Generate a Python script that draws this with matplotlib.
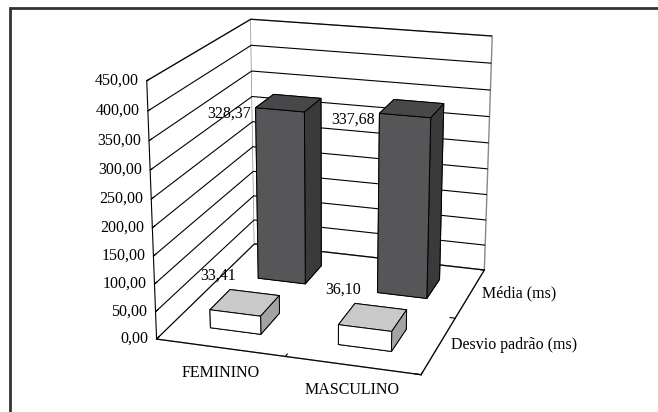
import matplotlib
matplotlib.use("Agg")
import matplotlib.pyplot as plt
from matplotlib.patches import Rectangle
from mpl_toolkits.mplot3d import proj3d
import numpy as np

categories = ["FEMININO", "MASCULINO"]
series = ["Desvio padrão (ms)", "Média (ms)"]
desvio = [33.41, 36.10]
media = [328.37, 337.68]
z_ticks = [0, 50, 100, 150, 200, 250, 300, 350, 400, 450]

plt.rcParams['font.family'] = ['Liberation Serif', 'DejaVu Serif']
FS = 11.5

def fmt(v):
    return f"{v:.2f}".replace('.', ',')

fig = plt.figure(figsize=(6.58, 4.12), dpi=100)
fig.patches.append(Rectangle((10/658, -0.1), 1.2, (1 - 8/412) + 0.1, transform=fig.transFigure,
                             fill=False, edgecolor='#333333', linewidth=2.0, zorder=0))

ax = fig.add_axes([-0.008, 0.042, 1.0, 1.0], projection='3d')
ax.set_proj_type('persp', focal_length=0.7)
ax.view_init(elev=18.4, azim=-72.4)
ax.set_box_aspect((262, 272, 256), zoom=1.086)

ax.set_xlim(0, 2)
ax.set_ylim(0, 2)
ax.set_zlim(0, 450)

M = ax.get_proj()

def label3d(x, y, z, s, dx, dy, **kw):
    px, py, _ = proj3d.proj_transform(x, y, z, M)
    ax.annotate(s, xy=(px, py), xycoords='data', xytext=(dx, dy), textcoords='offset pixels',
                fontsize=FS, **kw)

bw, bd = 0.4, 0.4
values_by_series = [desvio, media]
face_colors = [
    # -Z, +Z, -Y(front), +Y, -X, +X(right side)
    ['#ffffff', '#c9c9c9', '#ffffff', '#ffffff', '#ffffff', '#a3a3a3'],
    ['#404040', '#48484b', '#565658', '#565658', '#565658', '#3a3a3c'],
]
for si, vals in enumerate(values_by_series):
    for ci, v in enumerate(vals):
        ax.bar3d(ci + 0.5 - bw / 2, si + 0.5 - bd / 2, 0, bw, bd, v,
                 color=face_colors[si], shade=False, edgecolor='black', linewidth=0.7)
        if si == 0:
            label3d(ci + 0.5 - bw / 2, si + 0.5 + bd / 2, v, fmt(v), 6, 14, ha='right', va='center')
        else:
            label3d(ci + 0.5 - bw / 2, si + 0.5 - bd / 2, v, fmt(v), -5, -6, ha='right', va='center')

# category labels and series labels placed relative to floor edges
for ci, name in enumerate(categories):
    label3d(ci + 0.5, 0, 0, name, 0, -25, ha='center', va='center')
for si, name in enumerate(series):
    label3d(2, si + 0.5, 0, name, 12, 0, ha='left', va='center')

# value-axis labels beside the front-left vertical axis
for t in z_ticks:
    label3d(0, 0, t, fmt(t), -8, 0, ha='right', va='center')

ax.set_xticks([0, 1, 2])
ax.set_yticks([0, 1, 2])
ax.set_zticks(z_ticks)
ax.xaxis.set_tick_params(label1On=False)
ax.yaxis.set_tick_params(label1On=False)
ax.zaxis.set_tick_params(label1On=False)
ax.zaxis.set_ticks_position('lower')

for a in (ax.xaxis, ax.yaxis, ax.zaxis):
    a.set_pane_color((1, 1, 1, 1))
    a._axinfo['grid'].update(color='black', linewidth=0.8)
    a._axinfo['tick'].update(inward_factor=0.0, outward_factor=0.25)
    a.line.set_color('black')
    a.offsetText.set_visible(False)
    a.label.set_visible(False)
ax.xaxis._axinfo['grid'].update(linewidth=0)
ax.yaxis._axinfo['grid'].update(linewidth=0)
ax.xaxis.pane.set_edgecolor('#888888')
ax.yaxis.pane.set_edgecolor('#888888')
ax.zaxis.pane.set_edgecolor('#888888')

fig.savefig("out.png", dpi=100)
